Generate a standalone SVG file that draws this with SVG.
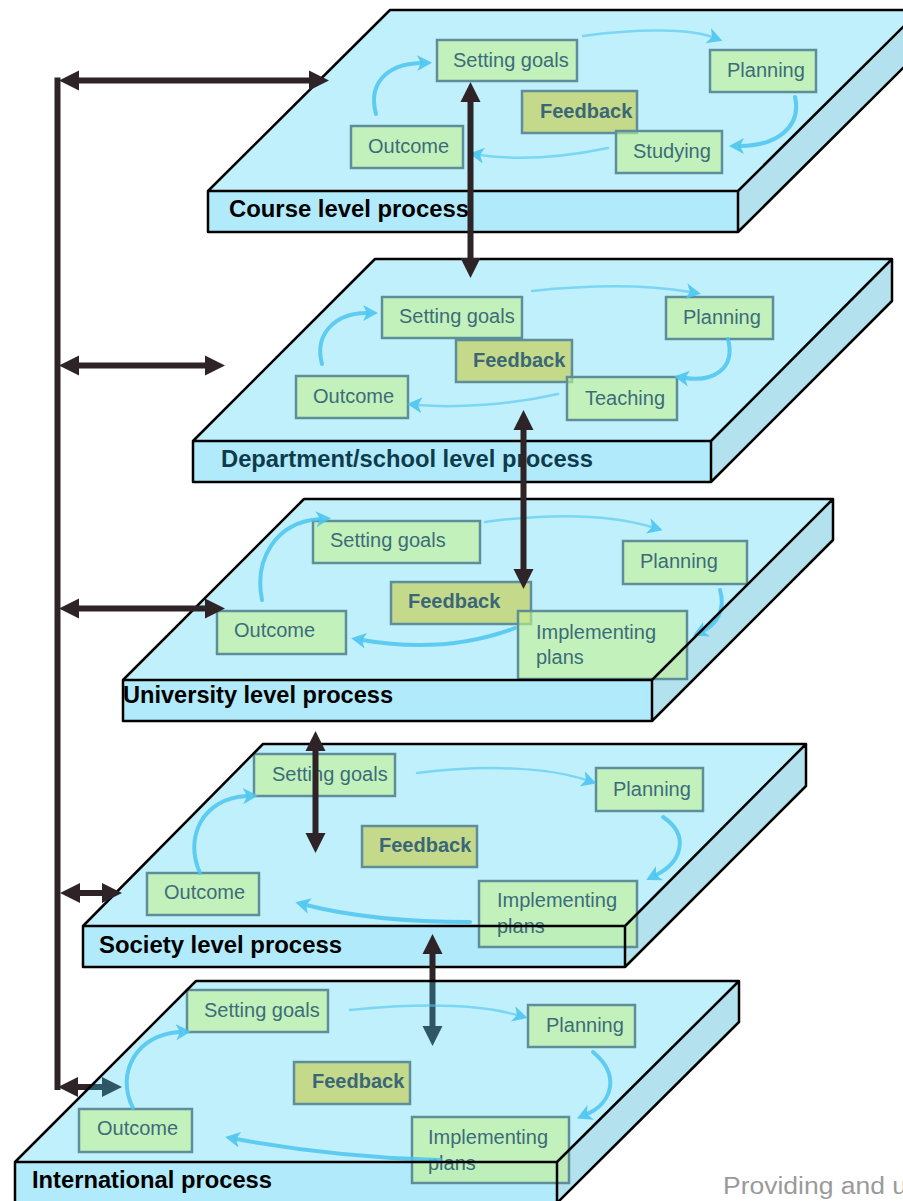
<svg xmlns="http://www.w3.org/2000/svg" width="903" height="1201" viewBox="0 0 903 1201">
<style>
.top{fill:rgb(45,205,245);fill-opacity:.3}
.front{fill:rgb(40,200,245);fill-opacity:.36}
.side{fill:rgb(55,180,210);fill-opacity:.38}
.edge{fill:none;stroke:#000;stroke-width:2.5;stroke-linejoin:round}
.box rect{fill:rgb(197,242,145);fill-opacity:.6;stroke:#5e8e9a;stroke-width:2.5}
.fb rect{fill:#c5d98b;fill-opacity:1}
.box text{font-family:"Liberation Sans",Arial,sans-serif;font-size:20px;fill:#3c6c7a}
.fb text{font-weight:bold;fill:#3a6777}
.label{font-family:"Liberation Sans",Arial,sans-serif;font-size:23px;font-weight:bold;fill:#000}
.flow{fill:none;stroke:#4cc4ef;stroke-width:4;stroke-opacity:.85;stroke-linecap:round;marker-end:url(#bh)}
.thin{stroke-width:2.5;stroke-opacity:.6}
.conn{fill:none;stroke:#2e2326;stroke-width:6;marker-start:url(#ah);marker-end:url(#ah)}
.spine{fill:none;stroke:#2e2326;stroke-width:6}
</style>
<defs>
<marker id="ah" markerUnits="userSpaceOnUse" markerWidth="24" markerHeight="24" viewBox="0 -12 24 24" refX="2" refY="0" orient="auto-start-reverse"><path d="M0,-10 L20,0 L0,10 z" fill="#2e2326"/></marker>
<marker id="bh" markerUnits="userSpaceOnUse" markerWidth="18" markerHeight="18" viewBox="0 -9 18 18" refX="4" refY="0" orient="auto"><path d="M0,-8 L15,0 L0,8 L4,0 z" fill="#4cc4ef" fill-opacity=".9"/></marker>
</defs>

<!-- Course level -->
<g id="slab-course">
<polygon class="top" points="390,10 920,10 738,191 208,191"/>
<rect class="front" x="208" y="191" width="530" height="41"/>
<polygon class="side" points="738,191 920,10 920,51 738,232"/>
<g id="course-setting-goals" class="box"><rect x="437" y="40" width="140" height="41"/><text x="453" y="67">Setting goals</text></g>
<g id="course-planning" class="box"><rect x="710" y="50" width="106" height="42"/><text x="727" y="77">Planning</text></g>
<g id="course-feedback" class="box fb"><rect x="522" y="91" width="115" height="42"/><text x="540" y="118">Feedback</text></g>
<g id="course-studying" class="box"><rect x="616" y="131" width="106" height="42"/><text x="633" y="158">Studying</text></g>
<g id="course-outcome" class="box"><rect x="351" y="126" width="112" height="42"/><text x="368" y="153">Outcome</text></g>
<path class="flow" d="M376,114 C368,85 385,64 421,63"/>
<path class="flow thin" d="M583,36 C640,28 690,29 712,37"/>
<path class="flow" d="M795,97 C802,128 775,146 740,146"/>
<path class="flow thin" d="M608,148 C560,158 515,160 480,155"/>
<path class="edge" d="M390,10 L920,10 L738,191 L208,191 Z M208,191 L208,232 L738,232 L738,191 M738,232 L920,51 L920,10"/>
<text class="label" x="229" y="217" textLength="240" lengthAdjust="spacingAndGlyphs">Course level process</text>
</g>

<!-- Department level -->
<g id="slab-department">
<polygon class="top" points="375,259 892,259 711,441 193,441"/>
<rect class="front" x="193" y="441" width="518" height="41"/>
<polygon class="side" points="711,441 892,259 892,301 711,482"/>
<g id="dept-setting-goals" class="box"><rect x="382" y="297" width="140" height="41"/><text x="399" y="323">Setting goals</text></g>
<g id="dept-planning" class="box"><rect x="666" y="297" width="107" height="42"/><text x="683" y="324">Planning</text></g>
<g id="dept-feedback" class="box fb"><rect x="456" y="340" width="116" height="42"/><text x="473" y="367">Feedback</text></g>
<g id="dept-teaching" class="box"><rect x="567" y="377" width="110" height="43"/><text x="585" y="405">Teaching</text></g>
<g id="dept-outcome" class="box"><rect x="296" y="376" width="112" height="42"/><text x="313" y="403">Outcome</text></g>
<path class="flow" d="M322,364 C314,334 335,313 367,313"/>
<path class="flow thin" d="M532,291 C600,284 655,286 690,292"/>
<path class="flow" d="M728,339 C736,370 712,382 685,378"/>
<path class="flow thin" d="M558,394 C510,405 455,408 418,405"/>
<path class="edge" d="M375,259 L892,259 L711,441 L193,441 Z M193,441 L193,482 L711,482 L711,441 M711,482 L892,301 L892,259"/>
<text class="label" x="221" y="467" textLength="372" lengthAdjust="spacingAndGlyphs" style="fill:#0e3b4c">Department/school level process</text>
</g>

<!-- University level -->
<g id="slab-university">
<polygon class="top" points="304,499 833,499 652,680 123,680"/>
<rect class="front" x="123" y="680" width="529" height="41"/>
<polygon class="side" points="652,680 833,499 833,540 652,721"/>
<g id="univ-setting-goals" class="box"><rect x="313" y="521" width="167" height="42"/><text x="330" y="547">Setting goals</text></g>
<g id="univ-planning" class="box"><rect x="623" y="541" width="124" height="43"/><text x="640" y="568">Planning</text></g>
<g id="univ-feedback" class="box fb"><rect x="391" y="582" width="140" height="42"/><text x="408" y="608">Feedback</text></g>
<g id="univ-implementing" class="box"><rect x="518" y="611" width="169" height="68"/><text x="536" y="639">Implementing</text><text x="536" y="664">plans</text></g>
<g id="univ-outcome" class="box"><rect x="217" y="611" width="129" height="43"/><text x="234" y="637">Outcome</text></g>
<path class="flow" d="M262,600 C254,560 275,522 320,519"/>
<path class="flow thin" d="M485,522 C560,512 615,516 652,527"/>
<path class="flow" d="M720,590 C726,610 716,625 703,631"/>
<path class="flow" d="M515,628 C470,645 420,650 362,640"/>
<path class="edge" d="M304,499 L833,499 L652,680 L123,680 Z M123,680 L123,721 L652,721 L652,680 M652,721 L833,540 L833,499"/>
<text class="label" x="123" y="703" textLength="270" lengthAdjust="spacingAndGlyphs">University level process</text>
</g>

<!-- Society level -->
<g id="slab-society">
<polygon class="top" points="263,744 806,744 625,926 83,926"/>
<rect class="front" x="83" y="926" width="542" height="41"/>
<polygon class="side" points="625,926 806,744 806,786 625,967"/>
<g id="soc-setting-goals" class="box"><rect x="254" y="754" width="141" height="42"/><text x="272" y="781">Setting goals</text></g>
<g id="soc-planning" class="box"><rect x="596" y="768" width="107" height="43"/><text x="613" y="796">Planning</text></g>
<g id="soc-feedback" class="box fb"><rect x="362" y="826" width="115" height="41"/><text x="379" y="852">Feedback</text></g>
<g id="soc-implementing" class="box"><rect x="479" y="881" width="158" height="66"/><text x="497" y="907">Implementing</text><text x="497" y="933">plans</text></g>
<g id="soc-outcome" class="box"><rect x="147" y="873" width="112" height="42"/><text x="164" y="899">Outcome</text></g>
<path class="flow" d="M200,873 C184,838 202,798 247,796"/>
<path class="flow thin" d="M417,773 C490,764 550,768 586,780"/>
<path class="flow" d="M663,817 C690,835 682,862 656,875"/>
<path class="flow" d="M470,922 C400,922 345,915 306,905"/>
<path class="edge" d="M263,744 L806,744 L625,926 L83,926 Z M83,926 L83,967 L625,967 L625,926 M625,967 L806,786 L806,744"/>
<text class="label" x="99" y="953" textLength="243" lengthAdjust="spacingAndGlyphs">Society level process</text>
</g>

<!-- Connectors -->
<g id="connectors">
<path class="spine" d="M57.5,77.5 L57.5,1090"/>
<path class="conn" d="M77,80.5 L311,80.5"/>
<path class="conn" d="M77,365.5 L207,365.5"/>
<path class="conn" d="M77,608.5 L207,608.5"/>
<path class="conn" d="M78,893 L104,893"/>
<path class="conn" d="M76,1087 L104,1087"/>
<path class="conn" d="M470.5,100 L470.5,260"/>
<path class="conn" d="M523.5,428 L523.5,571"/>
<path class="conn" d="M315.5,749 L315.5,835"/>
<path class="conn" d="M432.5,952 L432.5,1028"/>
</g>

<!-- International level -->
<g id="slab-international">
<polygon class="top" points="196,981 739,981 557,1162 15,1162"/>
<rect class="front" x="15" y="1162" width="542" height="41"/>
<polygon class="side" points="557,1162 739,981 739,1022 557,1203"/>
<g id="intl-setting-goals" class="box"><rect x="187" y="990" width="141" height="42"/><text x="204" y="1017">Setting goals</text></g>
<g id="intl-planning" class="box"><rect x="528" y="1005" width="107" height="42"/><text x="546" y="1032">Planning</text></g>
<g id="intl-feedback" class="box fb"><rect x="294" y="1062" width="116" height="42"/><text x="312" y="1088">Feedback</text></g>
<g id="intl-implementing" class="box"><rect x="412" y="1117" width="157" height="66"/><text x="428" y="1144">Implementing</text><text x="428" y="1170">plans</text></g>
<g id="intl-outcome" class="box"><rect x="79" y="1109" width="113" height="43"/><text x="97" y="1135">Outcome</text></g>
<path class="flow" d="M133,1108 C115,1073 137,1034 180,1032"/>
<path class="flow thin" d="M350,1010 C430,1002 485,1006 517,1015"/>
<path class="flow" d="M593,1052 C621,1075 612,1103 587,1114"/>
<path class="flow" d="M440,1160 C360,1158 285,1148 236,1139"/>
<path class="edge" d="M196,981 L739,981 L557,1162 L15,1162 Z M15,1162 L15,1203 L557,1203 L557,1162 M557,1203 L739,1022 L739,981"/>
<text class="label" x="32" y="1188" textLength="240" lengthAdjust="spacingAndGlyphs">International process</text>
</g>

<text x="723" y="1194" textLength="184" lengthAdjust="spacingAndGlyphs" style="font-family:'Liberation Sans',Arial,sans-serif;font-size:23px;fill:#9a9a9a">Providing and u</text>
</svg>
